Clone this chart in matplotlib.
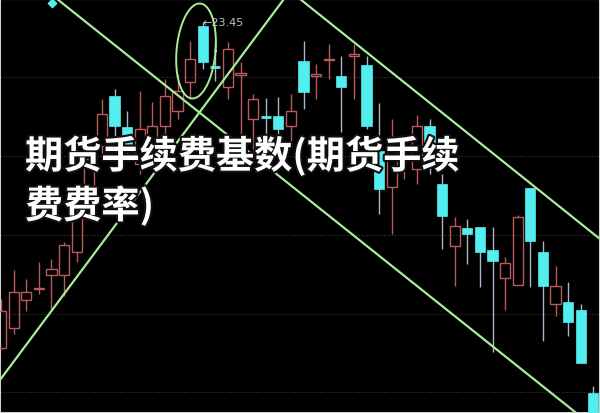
import numpy as np
import matplotlib
matplotlib.use("Agg")
import matplotlib.pyplot as plt
import matplotlib.patheffects as pe

# candle data (price units), index 0..47
opens = [16.93, 17.33, 17.89, 18.11, 18.39, 18.39, 18.85, 19.91, 20.97, 21.97, 21.35, 20.61,
         20.91, 21.37, 21.67, 22.25, 23.37, 22.61, 22.15, 22.39, 21.51, 21.57, 21.57, 21.37,
         22.67, 22.37, 22.69, 22.37, 22.77, 22.59, 20.87, 20.15, 20.67, 20.51, 21.37, 20.21,
         18.97, 19.33, 19.35, 18.89, 18.33, 18.19, 20.13, 18.85, 17.81, 17.85, 17.69, 16.03]
closes = [17.67, 18.05, 18.05, 18.13, 18.51, 18.99, 19.65, 20.71, 21.61, 21.37, 21.01, 21.31,
          21.37, 21.97, 22.07, 22.71, 22.65, 22.55, 22.91, 22.43, 21.91, 21.55, 21.31, 21.67,
          22.05, 22.41, 22.71, 22.15, 22.81, 21.37, 20.11, 20.91, 20.71, 21.37, 21.01, 19.57,
          19.37, 19.21, 18.85, 18.67, 18.63, 19.55, 19.07, 18.17, 18.17, 17.45, 16.63, 15.51]
highs = [17.91, 18.49, 18.31, 18.65, 18.71, 19.05, 20.21, 20.91, 21.91, 22.11, 21.67, 22.07,
         21.85, 22.31, 22.41, 23.07, 23.45, 23.05, 23.05, 22.65, 22.01, 21.93, 21.95, 22.01,
         23.07, 22.61, 23.01, 22.77, 23.01, 22.77, 21.83, 21.51, 21.11, 21.59, 21.51, 20.41,
         19.55, 19.51, 19.35, 19.35, 18.75, 19.59, 20.13, 19.07, 18.57, 18.25, 17.81, 16.17]
lows = [16.91, 17.21, 17.67, 18.01, 17.71, 17.97, 18.65, 19.61, 20.71, 21.11, 20.71, 20.41,
        20.61, 21.11, 21.51, 21.91, 22.51, 22.27, 21.91, 21.17, 20.71, 20.71, 20.61, 21.07,
        21.71, 21.91, 22.31, 21.25, 21.91, 21.31, 19.61, 19.21, 20.31, 20.21, 20.41, 18.91,
        18.17, 18.61, 18.15, 16.85, 17.69, 18.19, 18.15, 17.07, 17.57, 17.17, 16.63, 15.51]

grid_levels = [22.35, 20.77, 19.19, 17.61, 16.05]

# trend lines as (index, price) end points
trend_lines = [
    ([4.44, 45.55], [23.91, 15.65]),
    ([-0.09, 22.45], [16.29, 23.91]),
    ([23.72, 47.53], [23.91, 19.11]),
]

# ellipse around the high
ell_center = (15.47, 22.87)
ell_half_w = 1.55
ell_half_h = 0.95
ell_shear = 0.3

peak_label = "←23.45"
title_line1 = "期货手续费基数(期货手续"
title_line2 = "费费率)"

up_color = "#b85a5a"
down_color = "#52eef0"
down_wick = "#aab4cc"
line_color = "#a8ec98"

fig = plt.figure(figsize=(6, 4.14), dpi=100)
fig.patch.set_facecolor("black")
ax = fig.add_axes([0, 0, 1, 1])
ax.set_facecolor("black")
ax.set_xlim(-0.087, 47.53)
ax.set_ylim(15.63, 23.91)
ax.set_xticks([])
ax.set_yticks([])
for s in ax.spines.values():
    s.set_color("#cfcfcf")
    s.set_linewidth(1.5)

for g in grid_levels:
    ax.axhline(g, color="#383838", lw=0.8, ls=(0, (1, 1.5)), zorder=1)

bw = 0.8
for i in range(len(opens)):
    o, c, h, l = opens[i], closes[i], highs[i], lows[i]
    top, bot = max(o, c), min(o, c)
    if c > o:
        ax.vlines(i, top, h, color=up_color, lw=1, zorder=2)
        ax.vlines(i, l, bot, color=up_color, lw=1, zorder=2)
        ax.add_patch(plt.Rectangle((i - bw / 2, bot), bw, top - bot, fill=False,
                                   edgecolor=up_color, lw=1, zorder=3))
    else:
        ax.vlines(i, l, h, color=down_wick, lw=1, zorder=2)
        if top - bot < 0.08:
            ax.hlines(c, i - bw / 2, i + bw / 2, color=down_color, lw=2, zorder=3)
        else:
            ax.add_patch(plt.Rectangle((i - bw / 2, bot), bw, top - bot,
                                       facecolor=down_color, edgecolor=down_color,
                                       lw=0.5, zorder=3))

# small marker at top left
ax.scatter([4.05], [23.83], marker="D", s=18, color=down_color, zorder=3)

for xs, ys in trend_lines:
    ax.plot(xs, ys, color=line_color, lw=1.6, zorder=4)

t = np.linspace(0, 2 * np.pi, 200)
ey = ell_center[1] + ell_half_h * np.sin(t)
ex = ell_center[0] + ell_half_w * np.cos(t) + ell_shear * (ey - ell_center[1])
ax.plot(ex, ey, color=line_color, lw=1.4, zorder=4)

ax.text(16.0, highs[16], peak_label, color="#c4c4c4", fontsize=8,
        ha="left", va="center", zorder=5)

effects = [pe.withStroke(linewidth=3, foreground="#101010")]
for txt, yy in [(title_line1, 157), (title_line2, 207)]:
    fig.text(25 / 600, 1 - yy / 414, txt, color="white", fontsize=27.5,
             fontweight="bold", family=["Noto Sans CJK SC", "DejaVu Sans"],
             ha="left", va="center", path_effects=effects, zorder=10)

fig.savefig("out.png", dpi=100, facecolor="black")
